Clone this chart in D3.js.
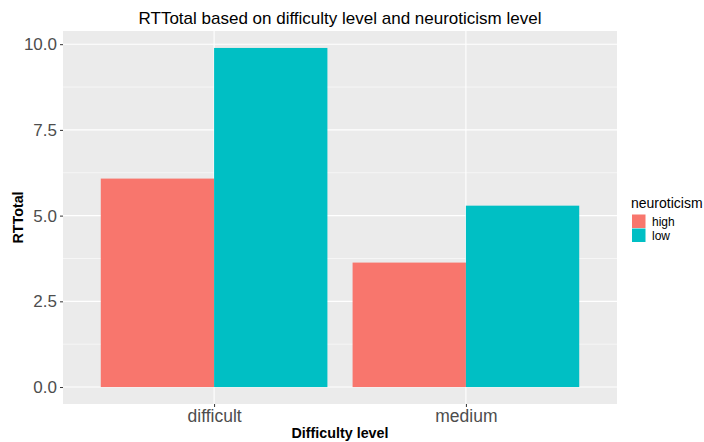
<!DOCTYPE html>
<html>
<head>
<meta charset="utf-8">
<script src="https://cdn.jsdelivr.net/npm/d3@7"></script>
<style>
  html, body { margin: 0; padding: 0; background: #fff; }
  svg { display: block; font-family: "Liberation Sans", Arial, sans-serif; }
</style>
</head>
<body>
<svg id="chart" width="704" height="442"></svg>
<script>
// Mean total reaction time by difficulty level, split by neuroticism group
const difficulty = ["difficult", "medium"];
const neuroticism = ["high", "low"];
const rtHigh = [6.08, 3.63];
const rtLow = [9.89, 5.29];
const yTicks = [0, 2.5, 5, 7.5, 10];
const colors = ["#F8766D", "#00BFC4"];

const rows = [];
difficulty.forEach((d, i) => {
  rows.push({ difficulty: d, group: "high", value: rtHigh[i] });
  rows.push({ difficulty: d, group: "low", value: rtLow[i] });
});

const svg = d3.select("#chart");
const panel = { left: 63, right: 617, top: 31, bottom: 404 };

// ggplot-style expansion: 5% on continuous, 0.6 units on discrete
const yMax = d3.max(rows, r => r.value);
const y = d3.scaleLinear()
  .domain([-0.05 * yMax, yMax * 1.05])
  .range([panel.bottom, panel.top]);

const xUnit = d3.scaleLinear()
  .domain([0.4, difficulty.length + 0.6])
  .range([panel.left, panel.right]);
const xPos = d => xUnit(difficulty.indexOf(d) + 1);
const barW = xUnit(1.9) - xUnit(1.0);
const dodge = d3.scaleBand().domain(neuroticism).range([-barW / 2, barW / 2]).padding(0);
const color = d3.scaleOrdinal().domain(neuroticism).range(colors);

// panel background
svg.append("rect")
  .attr("x", panel.left).attr("y", panel.top)
  .attr("width", panel.right - panel.left).attr("height", panel.bottom - panel.top)
  .attr("fill", "#EBEBEB");

// minor gridlines
const minor = yTicks.slice(0, -1).map((t, i) => (t + yTicks[i + 1]) / 2);
svg.append("g").selectAll("line").data(minor).join("line")
  .attr("x1", panel.left).attr("x2", panel.right)
  .attr("y1", d => y(d)).attr("y2", d => y(d))
  .attr("stroke", "#fff").attr("stroke-width", 0.55);

// major gridlines
svg.append("g").selectAll("line").data(yTicks).join("line")
  .attr("x1", panel.left).attr("x2", panel.right)
  .attr("y1", d => y(d)).attr("y2", d => y(d))
  .attr("stroke", "#fff").attr("stroke-width", 1.1);
svg.append("g").selectAll("line").data(difficulty).join("line")
  .attr("x1", d => xPos(d)).attr("x2", d => xPos(d))
  .attr("y1", panel.top).attr("y2", panel.bottom)
  .attr("stroke", "#fff").attr("stroke-width", 1.1);

// bars
svg.append("g").selectAll("rect").data(rows).join("rect")
  .attr("x", r => xPos(r.difficulty) + dodge(r.group))
  .attr("width", dodge.bandwidth())
  .attr("y", r => y(r.value))
  .attr("height", r => y(0) - y(r.value))
  .attr("fill", r => color(r.group));

const tickFont = "Liberation Sans, Arial, sans-serif";

// y axis
const yAxis = d3.axisLeft(y).tickValues(yTicks).tickFormat(d3.format(".1f")).tickSize(3).tickPadding(3);
const gy = svg.append("g").attr("transform", `translate(${panel.left},0)`).call(yAxis);
gy.select(".domain").remove();
gy.selectAll(".tick line").attr("stroke", "#333").attr("stroke-width", 1);
gy.selectAll(".tick text").attr("fill", "#4D4D4D").attr("font-size", 17).attr("font-family", tickFont);

// x axis
const xBand = d3.scaleOrdinal().domain(difficulty).range(difficulty.map(xPos));
const xAxis = d3.axisBottom(xBand).tickSize(3).tickPadding(3);
const gx = svg.append("g").attr("transform", `translate(0,${panel.bottom})`).call(xAxis);
gx.select(".domain").remove();
gx.selectAll(".tick line").attr("stroke", "#333").attr("stroke-width", 1);
gx.selectAll(".tick text").attr("fill", "#4D4D4D").attr("font-size", 17.5).attr("font-family", tickFont);

// titles
svg.append("text")
  .attr("x", (panel.left + panel.right) / 2).attr("y", 24)
  .attr("text-anchor", "middle").attr("font-size", 17).attr("fill", "#000")
  .text("RTTotal based on difficulty level and neuroticism level");
svg.append("text")
  .attr("x", (panel.left + panel.right) / 2).attr("y", 438)
  .attr("text-anchor", "middle").attr("font-size", 14.3).attr("font-weight", "bold").attr("fill", "#000")
  .text("Difficulty level");
svg.append("text")
  .attr("transform", `translate(23,${(panel.top + panel.bottom) / 2}) rotate(-90)`)
  .attr("text-anchor", "middle").attr("font-size", 14.3).attr("font-weight", "bold").attr("fill", "#000")
  .text("RTTotal");

// legend
const lg = svg.append("g").attr("transform", "translate(631,0)");
lg.append("text").attr("x", 0).attr("y", 207.5).attr("font-size", 14).attr("fill", "#000").text("neuroticism");
const item = lg.selectAll("g.item").data(neuroticism).join("g")
  .attr("class", "item")
  .attr("transform", (d, i) => `translate(0,${214 + i * 14})`);
item.append("rect").attr("width", 13.5).attr("height", 13.5).attr("x", 1).attr("y", 0.5).attr("fill", d => color(d));
item.append("text").attr("x", 21).attr("y", 11.5).attr("font-size", 12).attr("fill", "#000").text(d => d);
</script>
</body>
</html>
